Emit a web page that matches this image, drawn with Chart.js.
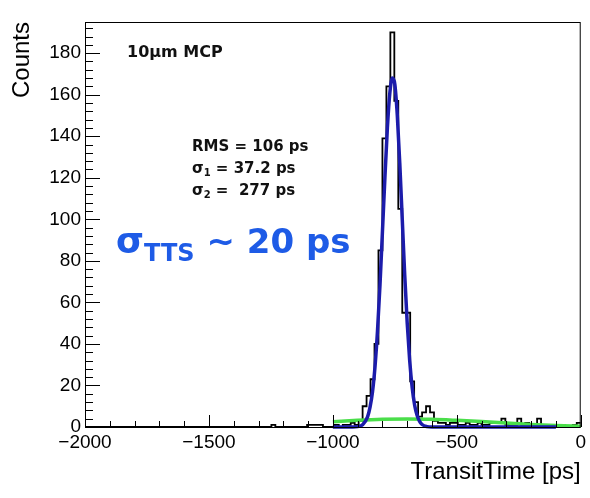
<!DOCTYPE html>
<html><head><meta charset="utf-8">
<script src="https://cdn.jsdelivr.net/npm/chart.js@4.4.0/dist/chart.umd.min.js"></script>
<style>html,body{margin:0;padding:0;background:#fff}#wrap{width:590px;height:498px}</style>
</head><body><div id="wrap"><canvas id="c" width="590" height="498"></canvas></div>
<script>
// ---- data ----
const histStart = -2000;   // ps, lower edge of first bin
const binWidth = 16;       // ps
const histCounts = [
  0,0,0,0,0,0,0,0,0,0, 0,0,0,0,0,0,0,0,0,0,
  0,0,0,0,0,0,0,0,0,0, 0,0,0,0,0,0,0,0,0,0,
  0,0,0,0,0,0,0,1,0,0, 0,0,0,0,0,0,1,1,1,1,
  0,0,0,1,0,1,1,2,1,3, 10,15,23,40,85,139,164,190,157,105,
  55,55,22,12,5,7,10,7,3,2, 2,1,2,2,1,1,2,1,1,2,
  1,1,2,2,2,4,1,1,1,4, 1,2,1,1,4,1,1,0,1,0,
  1,0,0,1,2
];
const fitTimes = [-1000,-920,-900,-880,-860,-850,-840,-830,-820,-810,-800,-790,-780,-770,-760,-750,-740,-730,-720,-710,-700,-690,-680,-670,-660,-650,-640,-620,-600,-100];
const narrowFit = [0,0,0.2,1.1,4.9,9.6,17,29,46,68,94,120,144,161,168,165,150,127,100,73,50,32,19,10.5,5.5,2.7,1.2,0.2,0,0];
const broadTimes = [-1000,-900,-800,-700,-600,-500,-400,-300,-200,-100,0];
const broadFit = [2.5,3.2,3.7,3.9,3.7,3.2,2.6,1.9,1.2,0.7,0.35];
const xRange = [-2000, 0];
const yRange = [0, 195];
const xMajorStep = 500, xMinorStep = 100;
const yMajorStep = 20, yMinorStep = 4;

// ---- build library data ----
const histPoints = histCounts.map((c, i) => ({x: histStart + i * binWidth, y: c}));
histPoints.push({x: histStart + histCounts.length * binWidth, y: histCounts[histCounts.length - 1]});
const narrowPoints = fitTimes.map((t, i) => ({x: t, y: narrowFit[i]}));
const broadPoints = broadTimes.map((t, i) => ({x: t, y: broadFit[i]}));

const minus = v => String(v).replace('-', '\u2212');

const framePlugin = {
  id: 'rootFrame',
  afterDatasetsDraw(chart) {
    const {ctx, chartArea: a, scales: {x, y}} = chart;
    ctx.save();
    ctx.strokeStyle = '#000';
    ctx.lineWidth = 1;
    ctx.strokeRect(a.left + 0.5, a.top + 0.5, a.right - a.left - 1, a.bottom - a.top);
    ctx.beginPath();
    for (let v = yRange[0]; v <= yRange[1]; v += yMinorStep) {
      const len = v % yMajorStep === 0 ? 15 : 8;
      const py = Math.round(y.getPixelForValue(v)) + 0.5;
      ctx.moveTo(a.left, py); ctx.lineTo(a.left + len, py);
    }
    for (let v = xRange[0]; v <= xRange[1]; v += xMinorStep) {
      const len = v % xMajorStep === 0 ? 12 : 6;
      const px = Math.round(x.getPixelForValue(v)) + 0.5;
      ctx.moveTo(px, a.bottom); ctx.lineTo(px, a.bottom - len);
    }
    ctx.stroke();
    ctx.restore();
  },
  afterDraw(chart) {
    const {ctx} = chart;
    ctx.save();
    ctx.fillStyle = '#111';
    ctx.textBaseline = 'alphabetic';
    ctx.textAlign = 'left';
    ctx.font = 'bold 16px "DejaVu Sans"';
    ctx.fillText('10\u03bcm MCP', 127, 57);
    ctx.font = 'bold 15px "DejaVu Sans"';
    ctx.fillText('RMS = 106 ps', 192, 151);
    const sub = (base, s, rest, x0, yb) => {
      ctx.font = 'bold 15px "DejaVu Sans"';
      ctx.fillText(base, x0, yb);
      let w = ctx.measureText(base).width;
      ctx.font = 'bold 10px "DejaVu Sans"';
      ctx.fillText(s, x0 + w, yb + 3);
      w += ctx.measureText(s).width;
      ctx.font = 'bold 15px "DejaVu Sans"';
      ctx.fillText(rest, x0 + w, yb);
    };
    sub('\u03c3', '1', ' = 37.2 ps', 192, 173);
    sub('\u03c3', '2', ' =  277 ps', 192, 195);
    // big blue annotation
    ctx.fillStyle = '#1e5be6';
    ctx.font = 'bold 36px "DejaVu Sans"';
    ctx.fillText('\u03c3', 116, 253);
    let w = ctx.measureText('\u03c3').width;
    ctx.font = 'bold 24px "DejaVu Sans"';
    ctx.fillText('TTS', 116 + w, 261);
    w += ctx.measureText('TTS').width;
    ctx.font = 'bold 34px "DejaVu Sans"';
    ctx.fillText(' ~ 20 ps', 116 + w, 253);
    ctx.restore();
  }
};

Chart.defaults.font.family = '"Liberation Sans", Arial, sans-serif';
Chart.defaults.color = '#000';

new Chart(document.getElementById('c'), {
  type: 'line',
  data: {
    datasets: [
      {label: 'narrow fit', data: narrowPoints, borderColor: '#1c1cab', borderWidth: 3.5,
       pointRadius: 0, fill: false, cubicInterpolationMode: 'monotone', clip: 4, order: 0},
      {label: 'broad fit', data: broadPoints, borderColor: '#4ade4a', borderWidth: 3.5,
       pointRadius: 0, fill: false, cubicInterpolationMode: 'monotone', clip: 4, order: 1},
      {label: 'TransitTime', data: histPoints, borderColor: '#000', borderWidth: 1.8,
       pointRadius: 0, fill: false, stepped: 'before', order: 2}
    ]
  },
  options: {
    responsive: false,
    animation: false,
    devicePixelRatio: 1,
    layout: {padding: {left: 0, right: 7, top: 22, bottom: 0}},
    plugins: {legend: {display: false}, tooltip: {enabled: false}},
    scales: {
      x: {
        type: 'linear', min: xRange[0], max: xRange[1],
        grid: {display: false, drawTicks: false}, border: {display: false},
        ticks: {stepSize: xMajorStep, padding: 4, font: {size: 19}, color: '#000', maxRotation: 0,
                callback: v => minus(v)},
        title: {display: true, text: 'TransitTime [ps]', align: 'end', font: {size: 24}, color: '#000',
                padding: {top: 0, bottom: 11}},
        afterFit: s => { s.height = 71; }
      },
      y: {
        type: 'linear', min: yRange[0], max: yRange[1],
        grid: {display: false, drawTicks: false}, border: {display: false},
        ticks: {stepSize: yMajorStep, includeBounds: false, padding: 4, font: {size: 19}, color: '#000',
                callback: v => minus(v)},
        title: {display: true, text: 'Counts', align: 'end', font: {size: 24}, color: '#000',
                padding: {top: 8, bottom: 0}},
        afterFit: s => { s.width = 85; }
      }
    }
  },
  plugins: [framePlugin]
});
</script>
</body></html>
